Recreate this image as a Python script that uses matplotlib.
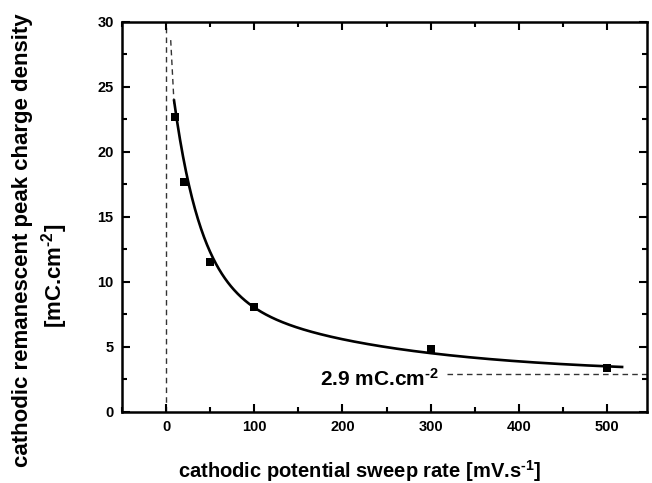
import numpy as np
import matplotlib
matplotlib.use("Agg")
import matplotlib.pyplot as plt
from matplotlib.ticker import MultipleLocator

plt.rcParams['font.family'] = ['Liberation Sans', 'DejaVu Sans']
plt.rcParams['mathtext.fontset'] = 'custom'
plt.rcParams['mathtext.rm'] = 'Liberation Sans:bold'
plt.rcParams['mathtext.default'] = 'rm'

# measured peak charge vs sweep rate
sweep_rate = [10, 20, 50, 100, 300, 500]          # mV/s
peak_charge = [22.7, 17.7, 11.5, 8.07, 4.8, 3.34]  # mC/cm^2

# double-exponential decay fit: q = q_inf + A1 exp(-v/t1) + A2 exp(-v/t2)
q_inf = 2.9
A1, t1 = 19.0, 31.0
A2, t2 = 7.2, 200.0
fit_range = (9.1, 517)

# steep extrapolation of the fit towards v -> 0
extrap_rate = [5.3, 9.1]
extrap_charge = [28.6, 23.7]

fig = plt.figure(figsize=(6.52, 4.83), dpi=100)
ax = fig.add_axes([0.187, 0.1476, 0.805, 0.807])

v = np.linspace(fit_range[0], fit_range[1], 600)
q = q_inf + A1 * np.exp(-v / t1) + A2 * np.exp(-v / t2)
ax.plot(v, q, color='black', lw=1.9, zorder=3)
ax.plot(extrap_rate, extrap_charge, color='#333333', lw=1.0,
        linestyle=(0, (4, 3)), zorder=2)

ax.scatter(sweep_rate, peak_charge, marker='s', s=36, color='black',
           linewidths=0, zorder=4)

# v = 0 reference and asymptote
ax.axvline(0, color='#333333', lw=1.0, linestyle=(0, (4, 3)), zorder=1)
ax.plot([319, 545], [q_inf, q_inf], color='#333333', lw=1.0,
        linestyle=(0, (4, 3)), zorder=1)
ax.text(309, q_inf - 0.4, f'{q_inf} mC.cm$^{{\\text{{-2}}}}$', ha='right',
        va='center', fontsize=15, fontweight='bold')

ax.set_xlim(-50, 545)
ax.set_ylim(0, 30)
ax.xaxis.set_major_locator(MultipleLocator(100))
ax.xaxis.set_minor_locator(MultipleLocator(50))
ax.yaxis.set_major_locator(MultipleLocator(5))
ax.yaxis.set_minor_locator(MultipleLocator(2.5))
ax.tick_params(which='both', direction='in', top=True, right=True, width=1.5)
ax.tick_params(which='major', length=6, labelsize=10.5, pad=6)
ax.tick_params(which='minor', length=3.5)
for lab in ax.get_xticklabels() + ax.get_yticklabels():
    lab.set_fontweight('bold')
for s in ax.spines.values():
    s.set_linewidth(1.8)

fig.text(0.551, 0.025, 'cathodic potential sweep rate [mV.s$^{\\text{-1}}$]',
         ha='center', va='center', fontsize=14.5, fontweight='bold')
fig.text(0.035, 0.503, 'cathodic remanescent peak charge density',
         ha='center', va='center', rotation=90, fontsize=16, fontweight='bold')
fig.text(0.083, 0.43, '[mC.cm$^{\\text{-2}}$]',
         ha='center', va='center', rotation=90, fontsize=16, fontweight='bold')

fig.savefig('out.png', dpi=100)
